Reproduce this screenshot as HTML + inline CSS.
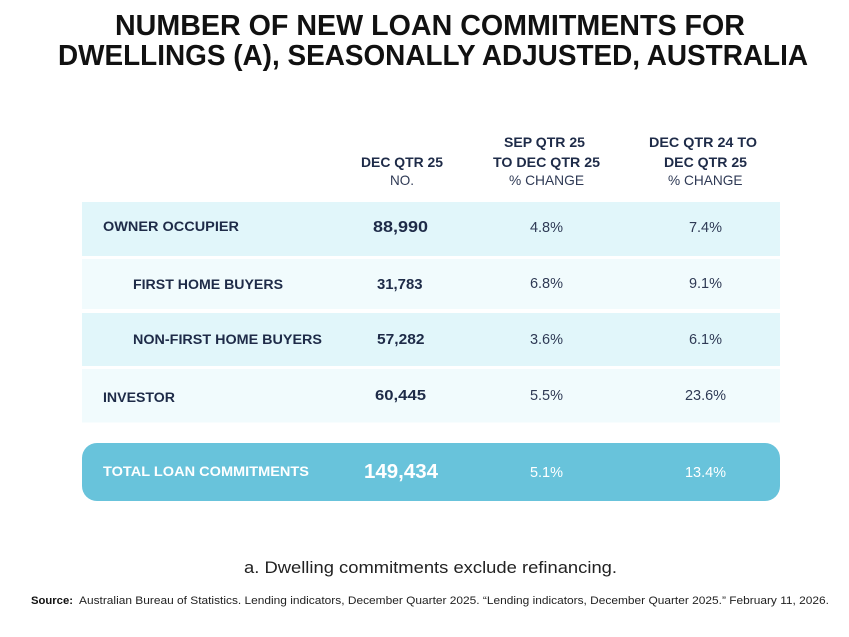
<!DOCTYPE html>
<html>
<head>
<meta charset="utf-8">
<style>
  html,body{margin:0;padding:0;background:#fff;}
  svg{display:block;}
  .b{font-family:"Liberation Sans",sans-serif;font-weight:bold;}
  .r{font-family:"Liberation Sans",sans-serif;font-weight:normal;}
</style>
</head>
<body>
<svg width="849" height="637" viewBox="0 0 849 637" xmlns="http://www.w3.org/2000/svg">
  <rect x="0" y="0" width="849" height="637" fill="#ffffff"/>

  <!-- Title -->
  <text class="b" x="115" y="35" font-size="29" fill="#111111" textLength="630" lengthAdjust="spacingAndGlyphs">NUMBER OF NEW LOAN COMMITMENTS FOR</text>
  <text class="b" x="58" y="65" font-size="29" fill="#111111" textLength="750" lengthAdjust="spacingAndGlyphs">DWELLINGS (A), SEASONALLY ADJUSTED, AUSTRALIA</text>

  <!-- Header -->
  <g fill="#1e2b48">
    <text class="b" x="361" y="167" font-size="14" textLength="82" lengthAdjust="spacingAndGlyphs">DEC QTR 25</text>
    <text class="r" x="390" y="185" font-size="14" fill="#2f3a55" textLength="24" lengthAdjust="spacingAndGlyphs">NO.</text>
    <text class="b" x="504" y="147" font-size="14" textLength="81" lengthAdjust="spacingAndGlyphs">SEP QTR 25</text>
    <text class="b" x="493" y="167" font-size="14" textLength="107" lengthAdjust="spacingAndGlyphs">TO DEC QTR 25</text>
    <text class="r" x="509" y="185" font-size="14" fill="#2f3a55" textLength="75" lengthAdjust="spacingAndGlyphs">% CHANGE</text>
    <text class="b" x="649" y="147" font-size="14" textLength="108" lengthAdjust="spacingAndGlyphs">DEC QTR 24 TO</text>
    <text class="b" x="664" y="167" font-size="14" textLength="83" lengthAdjust="spacingAndGlyphs">DEC QTR 25</text>
    <text class="r" x="668" y="185" font-size="14" fill="#2f3a55" textLength="74.5" lengthAdjust="spacingAndGlyphs">% CHANGE</text>
  </g>

  <!-- Rows -->
  <rect x="82" y="202" width="698" height="54" fill="#e1f6fa"/>
  <rect x="82" y="259" width="698" height="50" fill="#f1fbfd"/>
  <rect x="82" y="313" width="698" height="53" fill="#e1f6fa"/>
  <rect x="82" y="369" width="698" height="53.5" fill="#f1fbfd"/>
  <rect x="82" y="443" width="698" height="58" rx="15" ry="15" fill="#68c3db"/>

  <g fill="#1e2b48">
    <text class="b" x="103" y="231" font-size="13.5" textLength="136" lengthAdjust="spacingAndGlyphs">OWNER OCCUPIER</text>
    <text class="b" x="373" y="232" font-size="16" textLength="55" lengthAdjust="spacingAndGlyphs">88,990</text>
    <text class="b" x="133" y="289" font-size="13.5" textLength="150" lengthAdjust="spacingAndGlyphs">FIRST HOME BUYERS</text>
    <text class="b" x="377" y="289" font-size="14.5" textLength="45.5" lengthAdjust="spacingAndGlyphs">31,783</text>
    <text class="b" x="133" y="344" font-size="13.5" textLength="189" lengthAdjust="spacingAndGlyphs">NON-FIRST HOME BUYERS</text>
    <text class="b" x="377" y="344" font-size="14.5" textLength="47.5" lengthAdjust="spacingAndGlyphs">57,282</text>
    <text class="b" x="103" y="402" font-size="13.5" textLength="72" lengthAdjust="spacingAndGlyphs">INVESTOR</text>
    <text class="b" x="375" y="400" font-size="14.5" textLength="51" lengthAdjust="spacingAndGlyphs">60,445</text>
  </g>

  <g fill="#2f3a55" text-anchor="middle">
    <text class="r" x="546.5" y="232" font-size="14.5">4.8%</text>
    <text class="r" x="705.5" y="232" font-size="14.5">7.4%</text>
    <text class="r" x="546.5" y="288" font-size="14.5">6.8%</text>
    <text class="r" x="705.5" y="288" font-size="14.5">9.1%</text>
    <text class="r" x="546.5" y="344" font-size="14.5">3.6%</text>
    <text class="r" x="705.5" y="344" font-size="14.5">6.1%</text>
    <text class="r" x="546.5" y="400" font-size="14.5">5.5%</text>
    <text class="r" x="705.5" y="400" font-size="14.5">23.6%</text>
  </g>

  <g fill="#ffffff">
    <text class="b" x="103" y="476" font-size="13.5" textLength="206" lengthAdjust="spacingAndGlyphs">TOTAL LOAN COMMITMENTS</text>
    <text class="b" x="364" y="478" font-size="20" textLength="74" lengthAdjust="spacingAndGlyphs">149,434</text>
    <text class="r" x="546.5" y="477" font-size="14.5" text-anchor="middle">5.1%</text>
    <text class="r" x="705.5" y="477" font-size="14.5" text-anchor="middle">13.4%</text>
  </g>

  <!-- Footnote -->
  <text class="r" x="244" y="573" font-size="17" fill="#222222" textLength="373" lengthAdjust="spacingAndGlyphs">a. Dwelling commitments exclude refinancing.</text>
  <text class="b" x="31" y="604" font-size="11" fill="#111111" textLength="42" lengthAdjust="spacingAndGlyphs">Source:</text>
  <text class="r" x="79" y="604" font-size="11" fill="#222222" textLength="750" lengthAdjust="spacingAndGlyphs">Australian Bureau of Statistics. Lending indicators, December Quarter 2025. “Lending indicators, December Quarter 2025.” February 11, 2026.</text>
</svg>
</body>
</html>
